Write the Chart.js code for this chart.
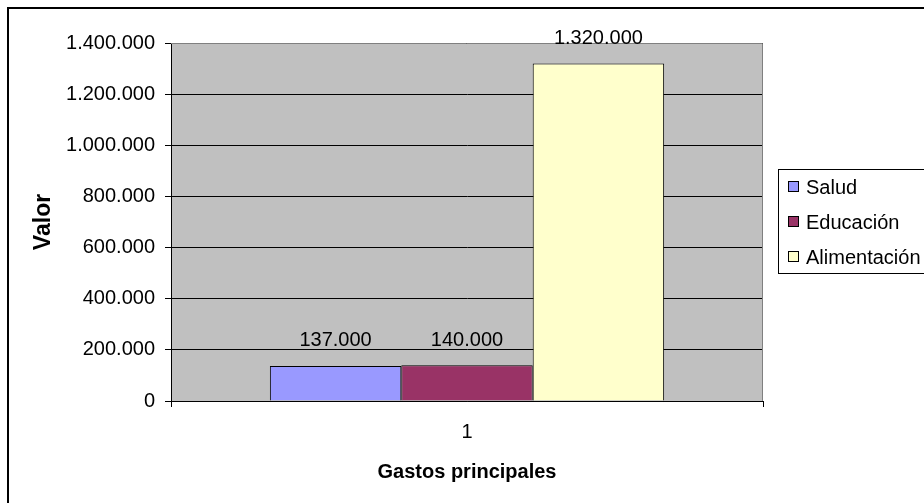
<!DOCTYPE html>
<html>
<head>
<meta charset="utf-8">
<script src="https://cdn.jsdelivr.net/npm/chart.js"></script>
<style>
  body { margin: 0; background: #fff; }
  canvas { display: block; }
</style>
</head>
<body>
<canvas id="gastosChart" width="924" height="503"></canvas>
<script>
// data
const categories = ['1'];
const seriesNames = ['Salud', 'Educación', 'Alimentación'];
const salud = [137000];
const educacion = [140000];
const alimentacion = [1320000];
const yTicks = [0, 200000, 400000, 600000, 800000, 1000000, 1200000, 1400000];

const colors = ['#9999FF', '#993366', '#FFFFCC'];
const FONT = 'Arial, "Liberation Sans", sans-serif';

// 1400000 -> "1.400.000"
function fmt(v) {
  return String(v).replace(/\B(?=(\d{3})+(?!\d))/g, '.');
}

// white page, black frame, grey plot area
const backdrop = {
  id: 'backdrop',
  beforeDraw(chart) {
    const { ctx, chartArea: a } = chart;
    ctx.save();
    ctx.fillStyle = '#fff';
    ctx.fillRect(0, 0, chart.width, chart.height);
    ctx.fillStyle = '#000';
    ctx.fillRect(7, 7, chart.width, 2);
    ctx.fillRect(7, 7, 2, chart.height);
    ctx.fillStyle = '#C0C0C0';
    ctx.fillRect(a.left, a.top, a.right - a.left, a.bottom - a.top);
    ctx.restore();
  },
  afterDatasetsDraw(chart) {
    const { ctx, chartArea: a } = chart;
    ctx.save();
    // plot border top/right
    ctx.strokeStyle = '#808080';
    ctx.lineWidth = 1;
    ctx.beginPath();
    ctx.moveTo(a.left, a.top + 0.5);
    ctx.lineTo(a.right - 0.5, a.top + 0.5);
    ctx.lineTo(a.right - 0.5, a.bottom);
    ctx.stroke();

    // value labels above bars
    ctx.fillStyle = '#000';
    ctx.font = '20px ' + FONT;
    ctx.textAlign = 'center';
    ctx.textBaseline = 'bottom';
    chart.data.datasets.forEach((ds, i) => {
      chart.getDatasetMeta(i).data.forEach((bar, j) => {
        ctx.fillText(fmt(ds.data[j]), bar.x, bar.y - 15);
      });
    });

    // legend
    ctx.fillStyle = '#fff';
    ctx.fillRect(778.5, 169.5, 200, 104);
    ctx.strokeStyle = '#000';
    ctx.strokeRect(778.5, 169.5, 200, 104);
    ctx.font = '20px ' + FONT;
    ctx.textAlign = 'left';
    ctx.textBaseline = 'middle';
    chart.data.datasets.forEach((ds, i) => {
      const y = 187 + i * 35;
      ctx.fillStyle = ds.backgroundColor;
      ctx.fillRect(788.5, y - 5.5, 10, 10);
      ctx.strokeRect(788.5, y - 5.5, 10, 10);
      ctx.fillStyle = '#000';
      ctx.fillText(ds.label, 806, y + 1);
    });
    ctx.restore();
  }
};

const ctx = document.getElementById('gastosChart').getContext('2d');
new Chart(ctx, {
  type: 'bar',
  data: {
    labels: categories,
    datasets: [
      { label: seriesNames[0], data: salud, backgroundColor: colors[0] },
      { label: seriesNames[1], data: educacion, backgroundColor: colors[1] },
      { label: seriesNames[2], data: alimentacion, backgroundColor: colors[2] }
    ]
  },
  options: {
    responsive: false,
    animation: false,
    layout: { padding: { left: 0, top: 43, right: 161, bottom: 0 } },
    datasets: {
      bar: {
        borderColor: '#000',
        borderWidth: 1,
        categoryPercentage: 0.666,
        barPercentage: 1
      }
    },
    scales: {
      x: {
        afterFit(s) { s.height = 102; },
        grid: { display: true, drawOnChartArea: false, drawTicks: true, tickLength: 6, color: '#000' },
        border: { color: '#000' },
        ticks: { color: '#000', font: { family: FONT, size: 20 }, padding: 13 },
        title: {
          display: true, text: 'Gastos principales', color: '#000',
          font: { family: FONT, size: 20, weight: 'bold' },
          padding: { top: 0, bottom: 19 }
        }
      },
      y: {
        min: 0,
        max: 1400000,
        afterFit(s) { s.width = 171; },
        afterBuildTicks(s) { s.ticks = yTicks.map(v => ({ value: v })); },
        grid: { color: '#000', tickLength: 6, drawTicks: true },
        border: { color: '#000' },
        ticks: {
          color: '#000', font: { family: FONT, size: 20 }, padding: 10,
          callback: v => fmt(v)
        },
        title: {
          display: true, text: 'Valor', color: '#000',
          font: { family: FONT, size: 23, weight: 'bold' },
          padding: { top: 30, bottom: 0 }
        }
      }
    },
    plugins: {
      legend: { display: false },
      tooltip: { enabled: false }
    }
  },
  plugins: [backdrop]
});
</script>
</body>
</html>
